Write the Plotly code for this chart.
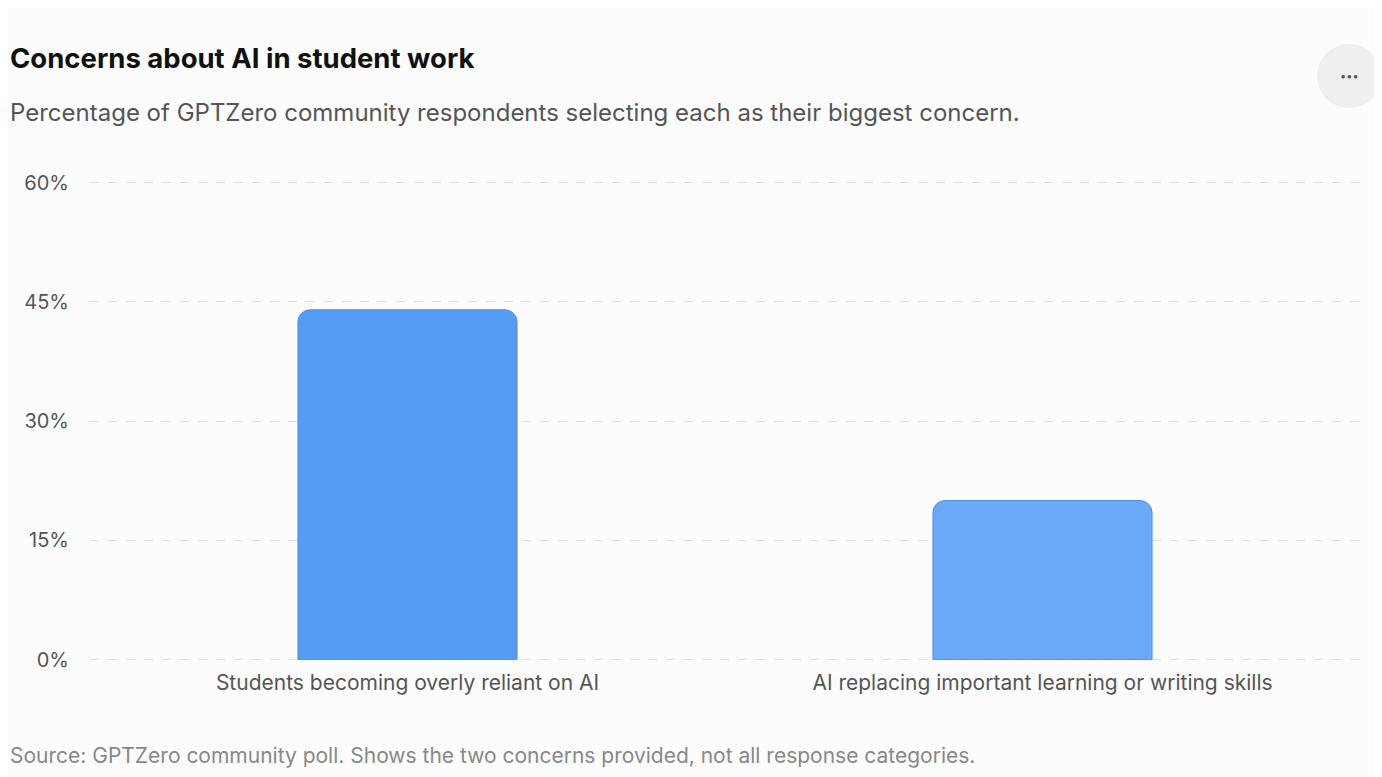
import plotly.graph_objects as go

categories = ["Students becoming overly reliant on AI", "AI replacing important learning or writing skills"]
values = [44, 20]
tick_vals = [0, 15, 30, 45, 60]
tick_text = ["0%", "15%", "30%", "45%", "60%"]

W, H = 1374, 769
L, R, T, B = 82, 22, 173, 117

fig = go.Figure(go.Bar(
    x=categories, y=values, width=0.345,
    marker=dict(color=["#559cf7", "#6aa8f8"], line=dict(color="#4a90ee", width=1), cornerradius=12),
    hoverinfo="skip",
))
font = "Inter, 'Noto Sans', sans-serif"
pw, ph = W - L - R, H - T - B
def px(x): return (x - L) / pw
def py(y): return (H - B - y) / ph

fig.update_layout(
    width=W, height=H,
    paper_bgcolor="#fcfcfc", plot_bgcolor="#fcfcfc",
    margin=dict(l=L, r=R, t=T, b=B),
    font=dict(family=font, color="#555", size=21),
    showlegend=False,
    xaxis=dict(showgrid=False, showline=False, ticks="", ticklabelstandoff=8,
               tickfont=dict(size=21, color="#555")),
    yaxis=dict(range=[-0.05, 60.2], tickvals=tick_vals, ticktext=tick_text, gridcolor="#dedede",
               griddash="dash", zeroline=False, ticks="", ticklabelstandoff=20,
               tickfont=dict(size=20, color="#555")),
    annotations=[
        dict(text="<b>Concerns about AI in student work</b>", x=px(0), y=py(50), xref="paper", yref="paper",
             xanchor="left", yanchor="middle", showarrow=False, font=dict(size=27.5, color="#111")),
        dict(text="Percentage of GPTZero community respondents selecting each as their biggest concern.",
             xref="paper", yref="paper", x=px(0), y=py(104), showarrow=False, xanchor="left", yanchor="middle",
             font=dict(size=24, color="#555")),
        dict(text="Source: GPTZero community poll. Shows the two concerns provided, not all response categories.",
             xref="paper", yref="paper", x=px(0), y=py(747), showarrow=False, xanchor="left", yanchor="middle",
             font=dict(size=21, color="#888")),
        dict(text="•••", xref="paper", yref="paper", x=px(1341), y=py(68), showarrow=False,
             xanchor="center", yanchor="middle", font=dict(size=11, color="#555")),
    ],
    shapes=[
        dict(type="circle", xref="paper", yref="paper", x0=px(1309), x1=px(1373), y0=py(100), y1=py(36),
             fillcolor="#efefef", line=dict(width=0), layer="below"),
        dict(type="line", xref="paper", yref="y", x0=0, x1=1, y0=0, y1=0,
             line=dict(color="#dedede", width=1, dash="dash"), layer="below"),
    ],
)
fig.write_html("out.html")
